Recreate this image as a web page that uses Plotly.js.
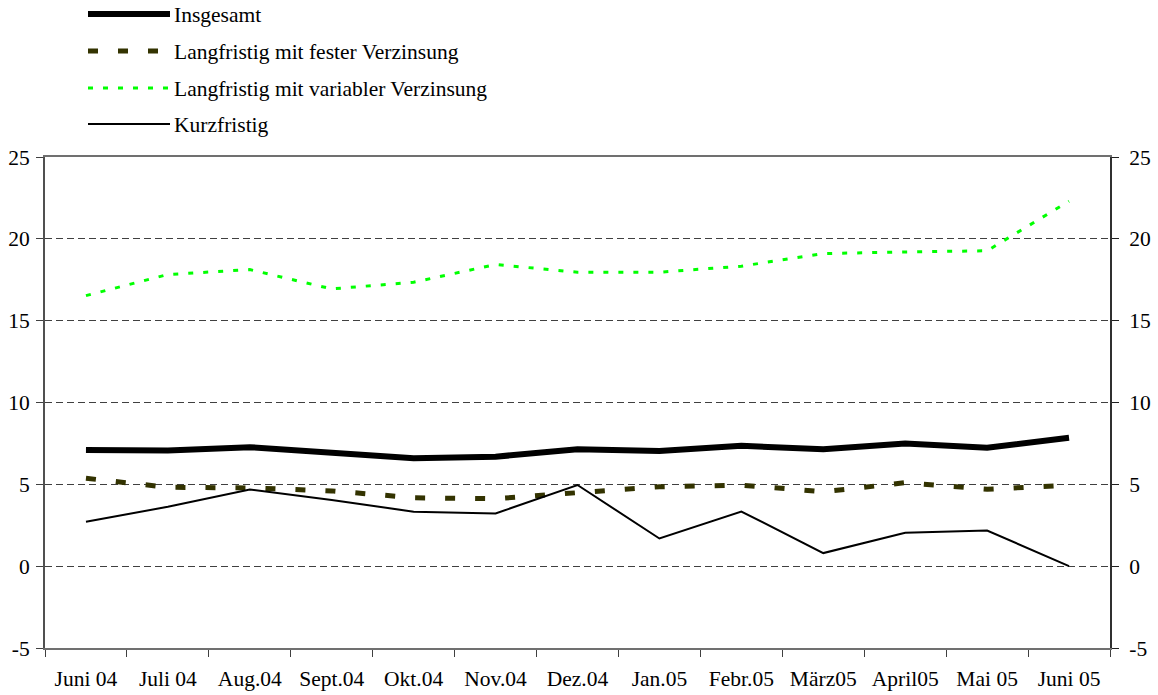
<!DOCTYPE html>
<html>
<head>
<meta charset="utf-8">
<script src="https://cdn.plot.ly/plotly-3.0.1.min.js"></script>
<style>html,body{margin:0;padding:0;background:#fff;}#chart{width:1158px;height:695px;}</style>
</head>
<body>
<div id="chart"></div>
<script>
const categories = ["Juni 04","Juli 04","Aug.04","Sept.04","Okt.04","Nov.04","Dez.04","Jan.05","Febr.05","März05","April05","Mai 05","Juni 05"];
const insgesamt = [7.1, 7.06, 7.27, 6.96, 6.59, 6.69, 7.14, 7.04, 7.35, 7.14, 7.5, 7.24, 7.84];
const festeVerzinsung = [5.37, 4.82, 4.78, 4.6, 4.18, 4.12, 4.49, 4.85, 4.95, 4.55, 5.1, 4.7, 4.95];
const variableVerzinsung = [16.53, 17.82, 18.12, 16.94, 17.35, 18.43, 17.96, 17.96, 18.33, 19.1, 19.2, 19.27, 22.3];
const kurzfristig = [2.71, 3.63, 4.69, 4.04, 3.33, 3.22, 4.96, 1.69, 3.34, 0.8, 2.04, 2.18, 0];
const seriesNames = ["Insgesamt","Langfristig mit fester Verzinsung","Langfristig mit variabler Verzinsung","Kurzfristig"];
const yTickVals = [-5, 0, 5, 10, 15, 20, 25];
const yTickText = ["-5", "0", "5", "10", "15", "20", "25"];

const FONT = "Liberation Serif";
const FS = 21.5;
const styles = [
  {color:"#000000", width:6, dash:"solid"},
  {color:"#333300", width:5, dash:"10px,20px"},
  {color:"#00ff00", width:3, dash:"5px,10px"},
  {color:"#000000", width:2, dash:"solid"}
];
const seriesData = [insgesamt, festeVerzinsung, variableVerzinsung, kurzfristig];

const traces = seriesData.map((d,i)=>({
  x: categories, y: d, type:"scatter", mode:"lines", name: seriesNames[i],
  line:{color:styles[i].color, width:styles[i].width, dash:styles[i].dash},
  showlegend:false, hoverinfo:"skip"
}));
traces.push({x:[categories[0]], y:[null], yaxis:"y2", type:"scatter", mode:"lines", showlegend:false, hoverinfo:"skip"});

const L = 45, R = 1110, T = 157, B = 648;
const px = v => (v-L)/(R-L);
const py = v => (B-v)/(B-T);
const legendY = [14, 51, 88, 124];
const shapes = [];
const annotations = [];
legendY.forEach((yy,i)=>{
  const s = styles[i];
  let x0 = 88, x1 = 170;
  if(i===1){ x0 = 88; x1 = 165; }
  shapes.push({type:"line", xref:"paper", yref:"paper", x0:px(x0), x1:px(x1), y0:py(yy), y1:py(yy),
    line:{color:s.color, width:s.width, dash:s.dash}});
  annotations.push({xref:"paper", yref:"paper", x:px(172), y:py(yy+1), xanchor:"left", yanchor:"middle",
    text: seriesNames[i], showarrow:false, font:{family:FONT, size:FS, color:"#000"}});
});

const axisFont = {family:FONT, size:FS, color:"#000"};
const layout = {
  width:1158, height:695,
  margin:{l:L, r:1158-R, t:T, b:695-B},
  paper_bgcolor:"#fff", plot_bgcolor:"#fff",
  font:{family:FONT, size:FS, color:"#000"},
  showlegend:false,
  xaxis:{
    type:"category", range:[-0.5,12.5], tickson:"boundaries", ticks:"outside", ticklen:7, tickcolor:"#404040",
    showline:true, linecolor:"#707070", linewidth:2, mirror:true, showgrid:false, zeroline:false,
    tickfont:axisFont, ticklabelstandoff:10, fixedrange:true
  },
  yaxis:{
    range:[-5,25], tickmode:"array", tickvals:yTickVals, ticktext:yTickText, ticks:"outside", ticklen:7, tickcolor:"#404040",
    showline:true, linecolor:"#505050", linewidth:2, showgrid:true, gridcolor:"#404040", gridwidth:1,
    griddash:"7px,4px", zeroline:false, tickfont:axisFont, ticklabelstandoff:2, fixedrange:true
  },
  yaxis2:{
    overlaying:"y", side:"right", anchor:"x", range:[-5,25], tickmode:"array", tickvals:yTickVals, ticktext:yTickText,
    ticks:"outside", ticklen:7, tickcolor:"#202020", showline:true, linecolor:"#303030", linewidth:2,
    showgrid:false, zeroline:false, tickfont:axisFont, ticklabelstandoff:6, fixedrange:true
  },
  shapes: shapes,
  annotations: annotations
};
Plotly.newPlot("chart", traces, layout, {displayModeBar:false, staticPlot:true});
</script>
</body>
</html>
